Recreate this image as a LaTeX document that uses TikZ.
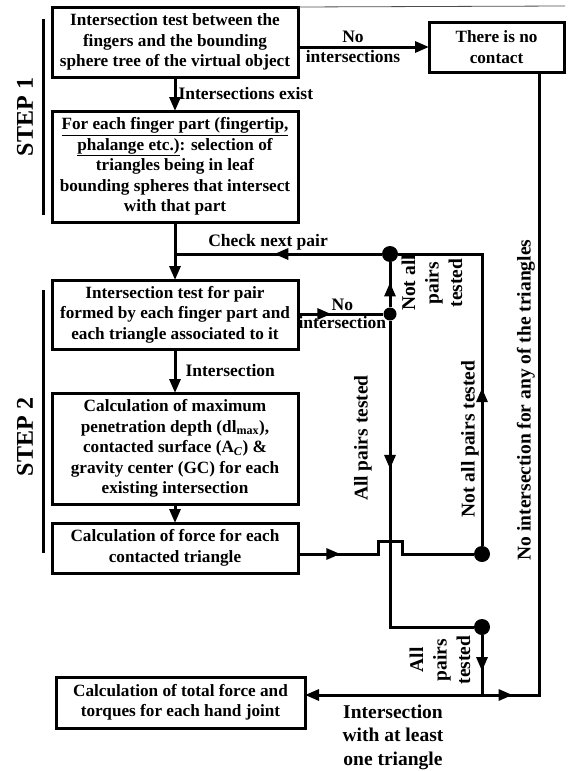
\documentclass[tikz,border=0pt]{standalone}
\usepackage{fontspec}
\setmainfont{Liberation Serif}
\usetikzlibrary{positioning, calc, arrows.meta, decorations.markings}

\newcommand{\boxfont}{\fontsize{17.2}{20.5}\selectfont\bfseries}
\newcommand{\labfont}{\fontsize{17.5}{20}\selectfont\bfseries}
\newcommand{\sidefont}{\fontsize{19.5}{23.5}\selectfont\bfseries}

\begin{document}
\begin{tikzpicture}[x=1pt, y=-1pt,
    stepbox/.style={draw, line width=3pt, minimum width=246pt, align=center, inner sep=2pt, outer sep=0pt, font=\boxfont},
    flow/.style={line width=3pt},
    endtip/.style={-{Triangle[length=14pt,width=11pt]}},
    midtip/.style={postaction={decorate}, decoration={markings, mark=at position #1 with {\arrow{Triangle[length=14pt,width=11pt]}}}},
    jdot/.style={circle, fill, inner sep=0pt, minimum size=#1},
    lab/.style={font=\labfont, inner sep=1pt},
    sidelab/.style={font=\sidefont, rotate=90, align=center, inner sep=1pt},
]
\useasboundingbox (0,0) rectangle (572,771);

% ── Step 1 ──
\node[stepbox, minimum height=70pt] (test) at (175,42) {Intersection test between the\\fingers and the bounding\\sphere tree of the virtual object};
\node[stepbox, minimum width=135pt, minimum height=50pt] (nocontact) at (496.5,47) {There is no\\contact};
\node[stepbox, minimum height=111pt, below=34pt of test] (select) {\underline{For each finger part (fingertip,}\\\underline{phalange etc.)}: selection of\\triangles being in leaf\\bounding spheres that intersect\\with that part};

\coordinate (topend) at (565,6);
\draw[line width=0.8pt, black!70] (test.north east) -- (topend);

\draw[line width=3pt] (43,19) -- (43,215);
\node[font=\fontsize{24}{28}\selectfont\bfseries, rotate=90] (step1) at (25,117) {STEP 1};

% ── Step 2 ──
\node[stepbox, minimum height=69pt, below=58pt of select] (pairtest) {Intersection test for pair\\formed by each finger part and\\each triangle associated to it};
\node[stepbox, minimum height=111pt, below=44pt of pairtest] (calcdepth) {Calculation of maximum\\penetration depth (dl\textsubscript{max}),\\contacted surface (A\textsubscript{\textit{C}}) \&\\gravity center (GC) for each\\existing intersection};
\node[stepbox, minimum height=50pt, below=19pt of calcdepth] (calcforce) {Calculation of force for each\\contacted triangle};

\draw[line width=3pt] (43,290) -- (43,553);
\node[font=\fontsize{24}{28}\selectfont\bfseries, rotate=90] (step2) at (25,437) {STEP 2};

% ── Result ──
\node[stepbox, minimum width=249pt, minimum height=51pt] (total) at (180.5,702.5) {Calculation of total force and\\torques for each hand joint};

% ── Junctions ──
\node[jdot=16pt] (d1) at (390,254) {};
\node[jdot=13pt] (d2) at (390,314) {};
\node[jdot=16pt] (d3) at (482,554) {};
\node[jdot=16pt] (d4) at (482,627) {};
\coordinate (j) at (482,695);
\coordinate (rc) at (539,695);

% ── Connectors ──
\draw[flow, endtip] (test.east |- nocontact.west) -- (nocontact.west)
    node[lab, pos=0.42, above=2pt] {No}
    node[lab, pos=0.42, below=1pt] {intersections};
\draw[flow, endtip] (test) -- (select) node[lab, midway, right=1pt] {Intersections exist};
\draw[flow, endtip] (select) -- (pairtest);
\draw[flow, midtip=0.52] (d1) -- (d1 -| select) node[lab, pos=0.55, above=1pt] {Check next pair};
\draw[flow, midtip=0.39] (pairtest.east |- d2) -- (d2)
    node[lab, pos=0.52, above=1pt] {No}
    node[lab, pos=0.52, below=0pt] {intersection};
\draw[flow, midtip=0.55] (d2) -- (d1);
\node[sidelab] (notall) at (432,283) {Not all\\pairs\\tested};

\draw[flow, endtip] (pairtest) -- (calcdepth) node[lab, midway, right=8pt] {Intersection};
\draw[flow, endtip] (calcdepth) -- (calcforce);

\draw[flow, midtip=0.38] (d2) -- (d2 |- d4) -- (d4);
\node[sidelab] (allpairs) at (363,438) {All pairs tested};

\draw[flow, midtip=0.42] (d3) -- (d3 |- d1) -- (d1);
\node[sidelab] (notallpairs) at (470,439) {Not all pairs tested};

\draw[flow, midtip=0.21] (calcforce.east |- d3) -- ($(d2 |- d3)+(-12,0)$) -- ++(0,-13) -- ++(24,0) -- ++(0,13) -- (d3);

\draw[flow, midtip=0.6] (d4) -- (j);
\node[sidelab] (allpairs2) at (440,660) {All\\pairs\\tested};

\draw[flow, endtip] (j) -- (total.east |- j);
\node[font=\sidefont, align=center, inner sep=1pt] (atleast) at (393,737) {Intersection\\with at least\\one triangle};

\draw[flow, midtip=0.045] (j) -- (rc) -- (nocontact.south -| rc);
\node[sidelab] (noint) at (526,400) {No intersection for any of the triangles};

\end{tikzpicture}
\end{document}
